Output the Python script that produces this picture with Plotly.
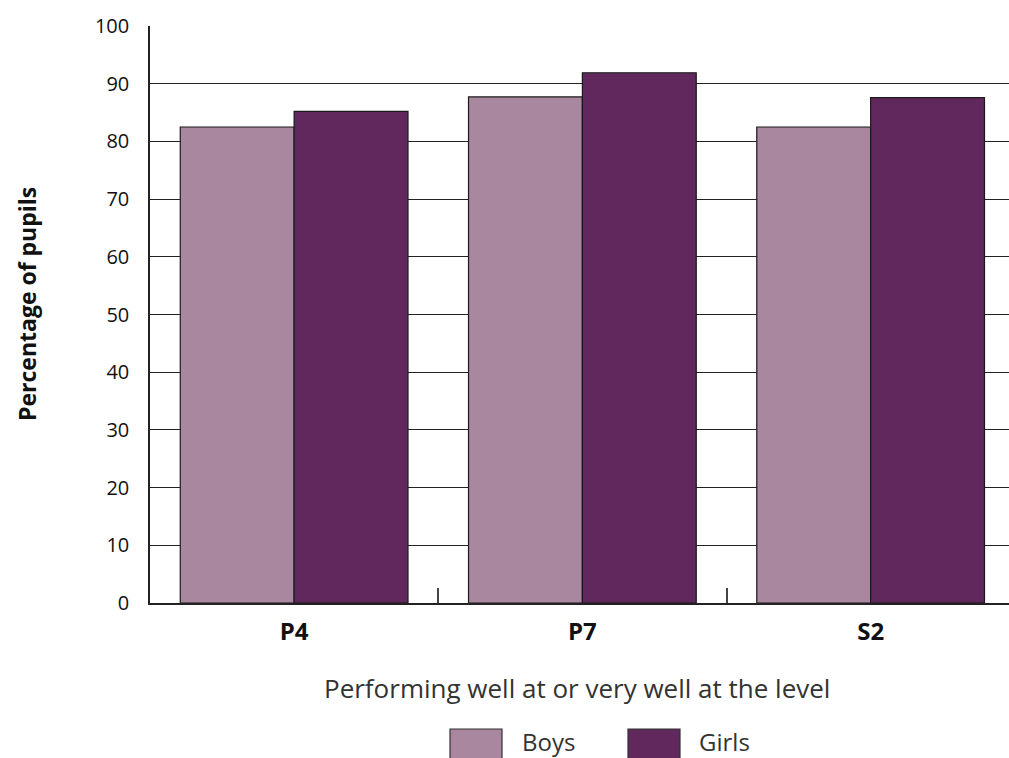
import plotly.graph_objects as go

# Data
categories = ["P4", "P7", "S2"]
boys = [82.5, 87.7, 82.5]
girls = [85.2, 91.9, 87.6]
y_ticks = [0, 10, 20, 30, 40, 50, 60, 70, 80, 90, 100]

BOYS_COLOR = "#a8879f"
GIRLS_COLOR = "#60285d"
EDGE = "#1a1a1a"
FONT = "Open Sans"

W, H = 1009, 758
L, R, T, B = 150, 0, 26, 155

fig = go.Figure()
fig.add_trace(go.Bar(x=categories, y=boys, name="Boys",
                     marker=dict(color=BOYS_COLOR, line=dict(color=EDGE, width=1.2))))
fig.add_trace(go.Bar(x=categories, y=girls, name="Girls",
                     marker=dict(color=GIRLS_COLOR, line=dict(color=EDGE, width=1.2))))

fig.update_layout(
    width=W, height=H,
    margin=dict(l=L, r=R, t=T, b=B, pad=0),
    paper_bgcolor="white", plot_bgcolor="white",
    barmode="group", bargap=0.21, bargroupgap=0,
    showlegend=False,
    font=dict(family=FONT, color="#111111"),
)

fig.update_xaxes(
    type="category", range=[-0.5, 2.48],
    showline=True, linecolor="#222222", linewidth=1.5,
    ticks="inside", tickson="boundaries", ticklen=15, tickcolor="#444444", tickwidth=1.5,
    tickfont=dict(family=FONT, size=24, color="#111111", weight="bold"),
    ticklabelstandoff=6,
    showgrid=False,
)

fig.update_yaxes(
    range=[0, 100], tickvals=y_ticks,
    showline=True, linecolor="#222222", linewidth=1.5,
    showgrid=True, gridcolor="#222222", gridwidth=1.2,
    ticks="", ticklabelstandoff=15,
    tickfont=dict(family=FONT, size=20, color="#111111"),
    zeroline=False,
)

# Axis titles
fig.add_annotation(text="Percentage of pupils", xref="paper", yref="paper",
                   x=(27 - L) / (W - L - R), y=(H - B - 304) / (H - T - B), textangle=-90,
                   showarrow=False, xanchor="center", yanchor="middle",
                   font=dict(family=FONT, size=23, color="#111111", weight="bold"))
fig.add_annotation(text="Performing well at or very well at the level",
                   xref="paper", yref="paper",
                   x=(577 - L) / (W - L - R), y=-(688 - (H - B)) / (H - T - B),
                   showarrow=False, xanchor="center", yanchor="middle",
                   font=dict(family=FONT, size=26, color="#333333"))

# Legend drawn as swatches with labels
plot_w = W - L - R
plot_h = H - T - B
def px_x(v):
    return (v - L) / plot_w
def px_y(v):
    return (H - B - v) / plot_h

legend_items = [("Boys", BOYS_COLOR, 450, 520), ("Girls", GIRLS_COLOR, 628, 697)]
for label, color, sx, tx in legend_items:
    fig.add_shape(type="rect", xref="paper", yref="paper",
                  x0=px_x(sx), x1=px_x(sx + 52), y0=px_y(729), y1=px_y(762),
                  fillcolor=color, line=dict(color="#333333", width=1.2))
    fig.add_annotation(text=label, xref="paper", yref="paper",
                       x=px_x(tx), y=px_y(741), showarrow=False,
                       xanchor="left", yanchor="middle",
                       font=dict(family=FONT, size=24, color="#333333"))

fig.write_html("out.html")
